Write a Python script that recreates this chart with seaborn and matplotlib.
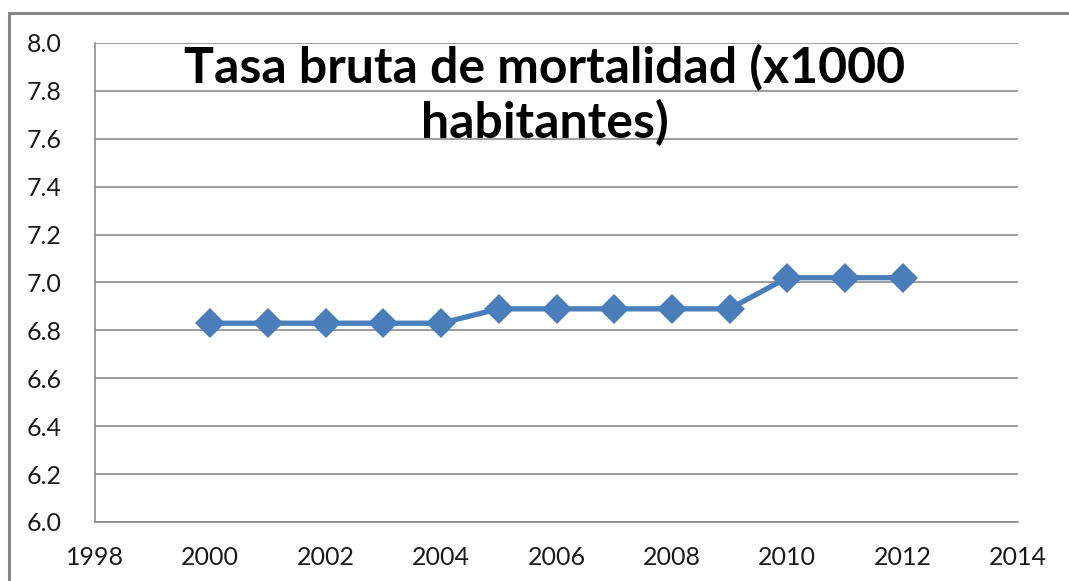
import numpy as np
import pandas as pd
import seaborn as sns
import matplotlib.pyplot as plt
from matplotlib.patches import Rectangle

years = [2000, 2001, 2002, 2003, 2004, 2005, 2006,
         2007, 2008, 2009, 2010, 2011, 2012]
tasa = [6.83, 6.83, 6.83, 6.83, 6.83, 6.89, 6.89,
        6.89, 6.89, 6.89, 7.02, 7.02, 7.02]
title = "Tasa bruta de mortalidad (x1000\nhabitantes)"

sns.set_style("white")
plt.rcParams['font.family'] = ['Lato', 'DejaVu Sans']

df = pd.DataFrame({'year': years, 'tasa': tasa})

fig = plt.figure(figsize=(10.69, 5.81), dpi=100)
ax = fig.add_axes([95/1069, 1 - 522/581, (1018 - 95)/1069, (522 - 43)/581])

# outer chart border, runs off the right and bottom edges
fig.patches.append(Rectangle((9/1069, -0.1), 1.2, 1 - 13/581 + 0.1,
                             transform=fig.transFigure, fill=False,
                             edgecolor='#878787', linewidth=2.2))

sns.lineplot(data=df, x='year', y='tasa', ax=ax, color='#4a7ebb',
             linewidth=3.8, marker='D', markersize=15,
             markeredgewidth=0, legend=False)

ax.set_xlim(1998, 2014)
ax.set_ylim(6.0, 8.0)
ax.set_xticks(np.arange(1998, 2015, 2))
ax.set_yticks(np.arange(6.0, 8.01, 0.2))
ax.set_yticklabels([f"{v:.1f}" for v in np.arange(6.0, 8.01, 0.2)])
ax.yaxis.grid(True, color='#8c8c8c', linewidth=1.2)
ax.set_axisbelow(True)
ax.set_xlabel("")
ax.set_ylabel("")

for s in ['top', 'right']:
    ax.spines[s].set_visible(False)
for s in ['left', 'bottom']:
    ax.spines[s].set_color('#8c8c8c')
    ax.spines[s].set_linewidth(1.2)

ax.tick_params(axis='both', which='major', direction='out', length=6,
               width=1.2, color='#8c8c8c', labelsize=18, labelcolor='#1a1a1a')
ax.tick_params(axis='x', pad=11)
ax.tick_params(axis='y', pad=18)

ax.text(545/1069, 1 - 44/581, title, transform=fig.transFigure,
        ha='center', va='top', fontsize=36, fontweight='bold',
        linespacing=1.2, color='black')

plt.savefig("out.png", dpi=100)
